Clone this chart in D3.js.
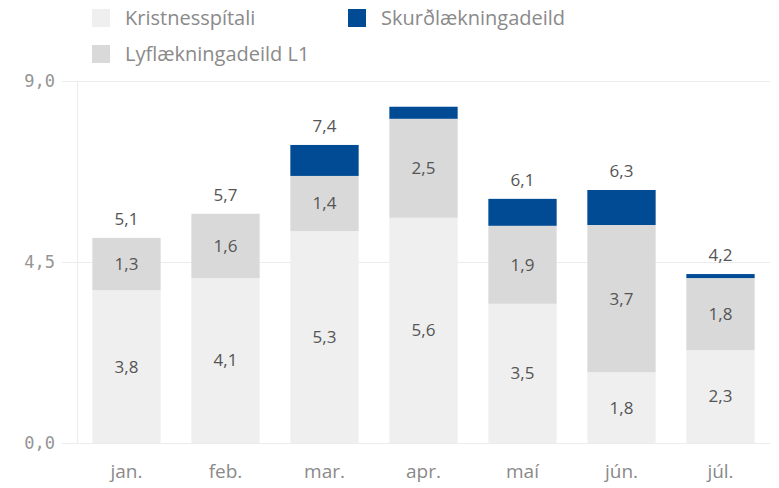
<!DOCTYPE html>
<html>
<head>
<meta charset="utf-8">
<script src="https://cdn.jsdelivr.net/npm/d3@7"></script>
<style>
  body { margin: 0; background: #fff; }
  svg { display: block; }
</style>
</head>
<body>
<div id="root"></div>
<script>
// data
const months = ["jan.", "feb.", "mar.", "apr.", "maí", "jún.", "júl."];
const seriesNames = ["Kristnesspítali", "Lyflækningadeild L1", "Skurðlækningadeild"];
const kristnes = [3.8, 4.1, 5.27, 5.6, 3.46, 1.76, 2.31];
const lyf = [1.3, 1.6, 1.37, 2.46, 1.94, 3.66, 1.79];
const skurd = [0, 0, 0.77, 0.3, 0.67, 0.87, 0.1];
const hiddenTotals = ["apr."];
const yTicks = [0, 4.5, 9];

const colors = ["#efefef", "#d9d9d9", "#004b93"];

let width = 779, height = 488;
let margin = { top: 81, right: 9, bottom: 45, left: 77 };
let sansFont = '"Open Sans", sans-serif';
let monoFont = '"DejaVu Sans Mono", monospace';

const isl = d3.formatLocale({ decimal: ",", thousands: ".", grouping: [3], currency: ["", " kr."] });
const fmt = isl.format(".1f");

let rows = months.map((m, i) => ({ month: m, k: kristnes[i], l: lyf[i], s: skurd[i] }));
let stack = d3.stack().keys(["k", "l", "s"])(rows);

let svg = d3.select('#root').append('svg')
    .attr('width', width)
    .attr('height', height);

let x = d3.scaleBand()
    .domain(months)
    .range([margin.left, width - margin.right])
    .paddingInner(0.31)
    .paddingOuter(0.155);

let y = d3.scaleLinear()
    .domain([0, 9])
    .range([height - margin.bottom, margin.top]);

// gridlines + y ticks
let yAxis = svg.append('g').attr('class', 'y-axis');
yTicks.forEach(function (t) {
    yAxis.append('line')
        .attr('x1', 62).attr('x2', width - margin.right)
        .attr('y1', y(t) + 0.5).attr('y2', y(t) + 0.5)
        .style('stroke', '#ececec')
        .style('stroke-width', 1);
    yAxis.append('text')
        .attr('x', 55).attr('y', y(t))
        .attr('dy', '0.35em')
        .attr('text-anchor', 'end')
        .style('font-family', monoFont)
        .style('font-size', '17px')
        .style('fill', '#959595')
        .text(fmt(t));
});
yAxis.append('line')
    .attr('x1', margin.left + 0.5).attr('x2', margin.left + 0.5)
    .attr('y1', y(9)).attr('y2', y(0))
    .style('stroke', '#ececec');

// bars
let layer = svg.selectAll('.layer')
    .data(stack)
    .enter().append('g')
    .attr('class', 'layer')
    .style('fill', (d, i) => colors[i]);

layer.selectAll('rect')
    .data(d => d)
    .enter().append('rect')
    .attr('x', d => x(d.data.month))
    .attr('y', d => y(d[1]))
    .attr('width', x.bandwidth())
    .attr('height', d => y(d[0]) - y(d[1]));

// segment labels (first two series only)
stack.slice(0, 2).forEach(function (s) {
    svg.append('g').selectAll('text')
        .data(s)
        .enter().append('text')
        .attr('x', d => x(d.data.month) + x.bandwidth() / 2)
        .attr('y', d => (y(d[0]) + y(d[1])) / 2)
        .attr('dy', '0.35em')
        .attr('text-anchor', 'middle')
        .style('font-family', sansFont)
        .style('font-size', '17px')
        .style('fill', '#555')
        .text(d => fmt(d[1] - d[0]));
});

// totals
svg.append('g').selectAll('text')
    .data(rows.filter(r => hiddenTotals.indexOf(r.month) < 0))
    .enter().append('text')
    .attr('x', d => x(d.month) + x.bandwidth() / 2)
    .attr('y', d => y(d.k + d.l + d.s) - 19)
    .attr('dy', '0.35em')
    .attr('text-anchor', 'middle')
    .style('font-family', sansFont)
    .style('font-size', '17px')
    .style('fill', '#555')
    .text(d => fmt(d.k + d.l + d.s));

// x labels
svg.append('g').selectAll('text')
    .data(months)
    .enter().append('text')
    .attr('x', d => x(d) + x.bandwidth() / 2)
    .attr('y', 471)
    .attr('dy', '0.35em')
    .attr('text-anchor', 'middle')
    .style('font-family', sansFont)
    .style('font-size', '19px')
    .style('fill', '#8a8a8a')
    .text(d => d);

// legend
let legendPos = [[92, 18], [92, 54], [348, 18]];
let legend = svg.append('g').selectAll('g')
    .data(seriesNames)
    .enter().append('g')
    .attr('transform', (d, i) => 'translate(' + legendPos[i][0] + ',' + legendPos[i][1] + ')');
legend.append('rect')
    .attr('x', 0).attr('y', -9)
    .attr('width', 18).attr('height', 18)
    .style('fill', (d, i) => colors[i]);
legend.append('text')
    .attr('x', 33).attr('y', 0)
    .attr('dy', '0.35em')
    .style('font-family', sansFont)
    .style('font-size', '20px')
    .style('fill', '#8a8a8a')
    .text(d => d);
</script>
</body>
</html>
